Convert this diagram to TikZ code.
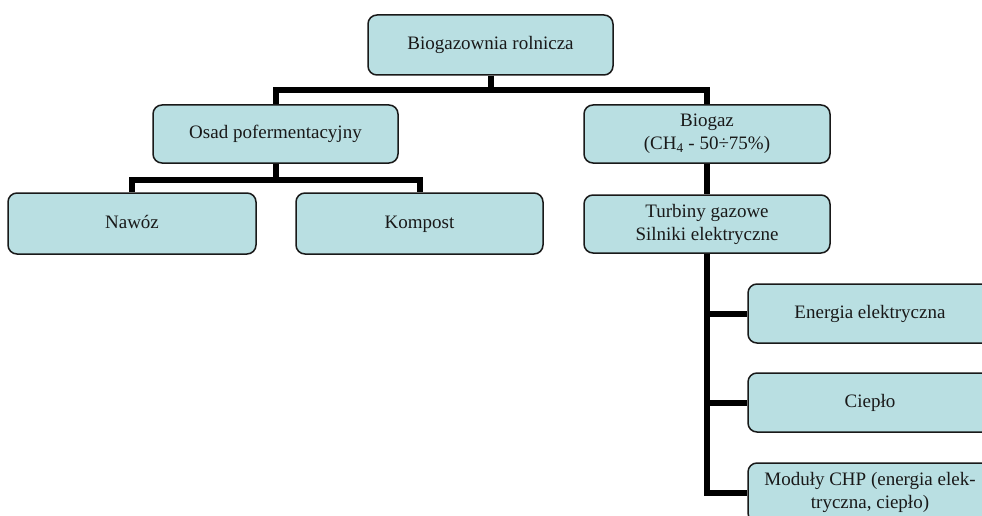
\documentclass[tikz,border=0pt]{standalone}
\usepackage{fontspec}
\setmainfont{Liberation Serif}
\definecolor{boxfill}{RGB}{185,223,226}
\begin{document}
\begin{tikzpicture}[x=1pt,y=-1pt]
\tikzstyle{box}=[draw=black!90,fill=boxfill,line width=1.5pt,rounded corners=9pt,align=center,inner sep=2pt,text=black!90,font=\fontsize{19}{23}\selectfont];
\tikzstyle{oneline}=[box,text height=13pt,text depth=4pt];
\tikzstyle{link}=[line width=6pt,black];
\useasboundingbox (0,0) rectangle (982,516);
\clip (0,0) rectangle (982,516);
\node (BR) [oneline,minimum width=245pt,minimum height=60pt] at (490.5,45) {Biogazownia rolnicza};
\node (OP) [oneline,minimum width=245pt,minimum height=58pt] at (275.5,134) {Osad pofermentacyjny};
\node (BG) [box,minimum width=246pt,minimum height=58pt] at (707,134) {Biogaz\\(CH\textsubscript{4} - 50÷75\%)};
\node (NW) [oneline,minimum width=248pt,minimum height=61pt] at (132,223.5) {Nawóz};
\node (KP) [oneline,minimum width=247pt,minimum height=61pt] at (419.5,223.5) {Kompost};
\node (TG) [box,minimum width=246pt,minimum height=58pt] at (707,224) {Turbiny gazowe\\Silniki elektryczne};
\node (EE) [oneline,minimum width=244pt,minimum height=59pt] at (870,313.5) {Energia elektryczna};
\node (CP) [oneline,minimum width=244pt,minimum height=59pt] at (870,402.5) {Ciepło};
\node (MC) [box,minimum width=244pt,minimum height=59pt] at (870,492.5) {Moduły CHP (energia elek-\\tryczna, ciepło)};
\draw[link] (BR.south) -- ++(0,14) -| (OP.north);
\draw[link] (BR.south) -- ++(0,14) -| (BG.north);
\draw[link] (OP.south) -- ++(0,16) -| (NW.north);
\draw[link] (OP.south) -- ++(0,16) -| (KP.north);
\draw[link] (BG.south) -- (TG.north);
\draw[link] (TG.south) |- (EE.west);
\draw[link] (TG.south) |- (CP.west);
\draw[link] (TG.south) |- (MC.west);
\end{tikzpicture}
\end{document}
